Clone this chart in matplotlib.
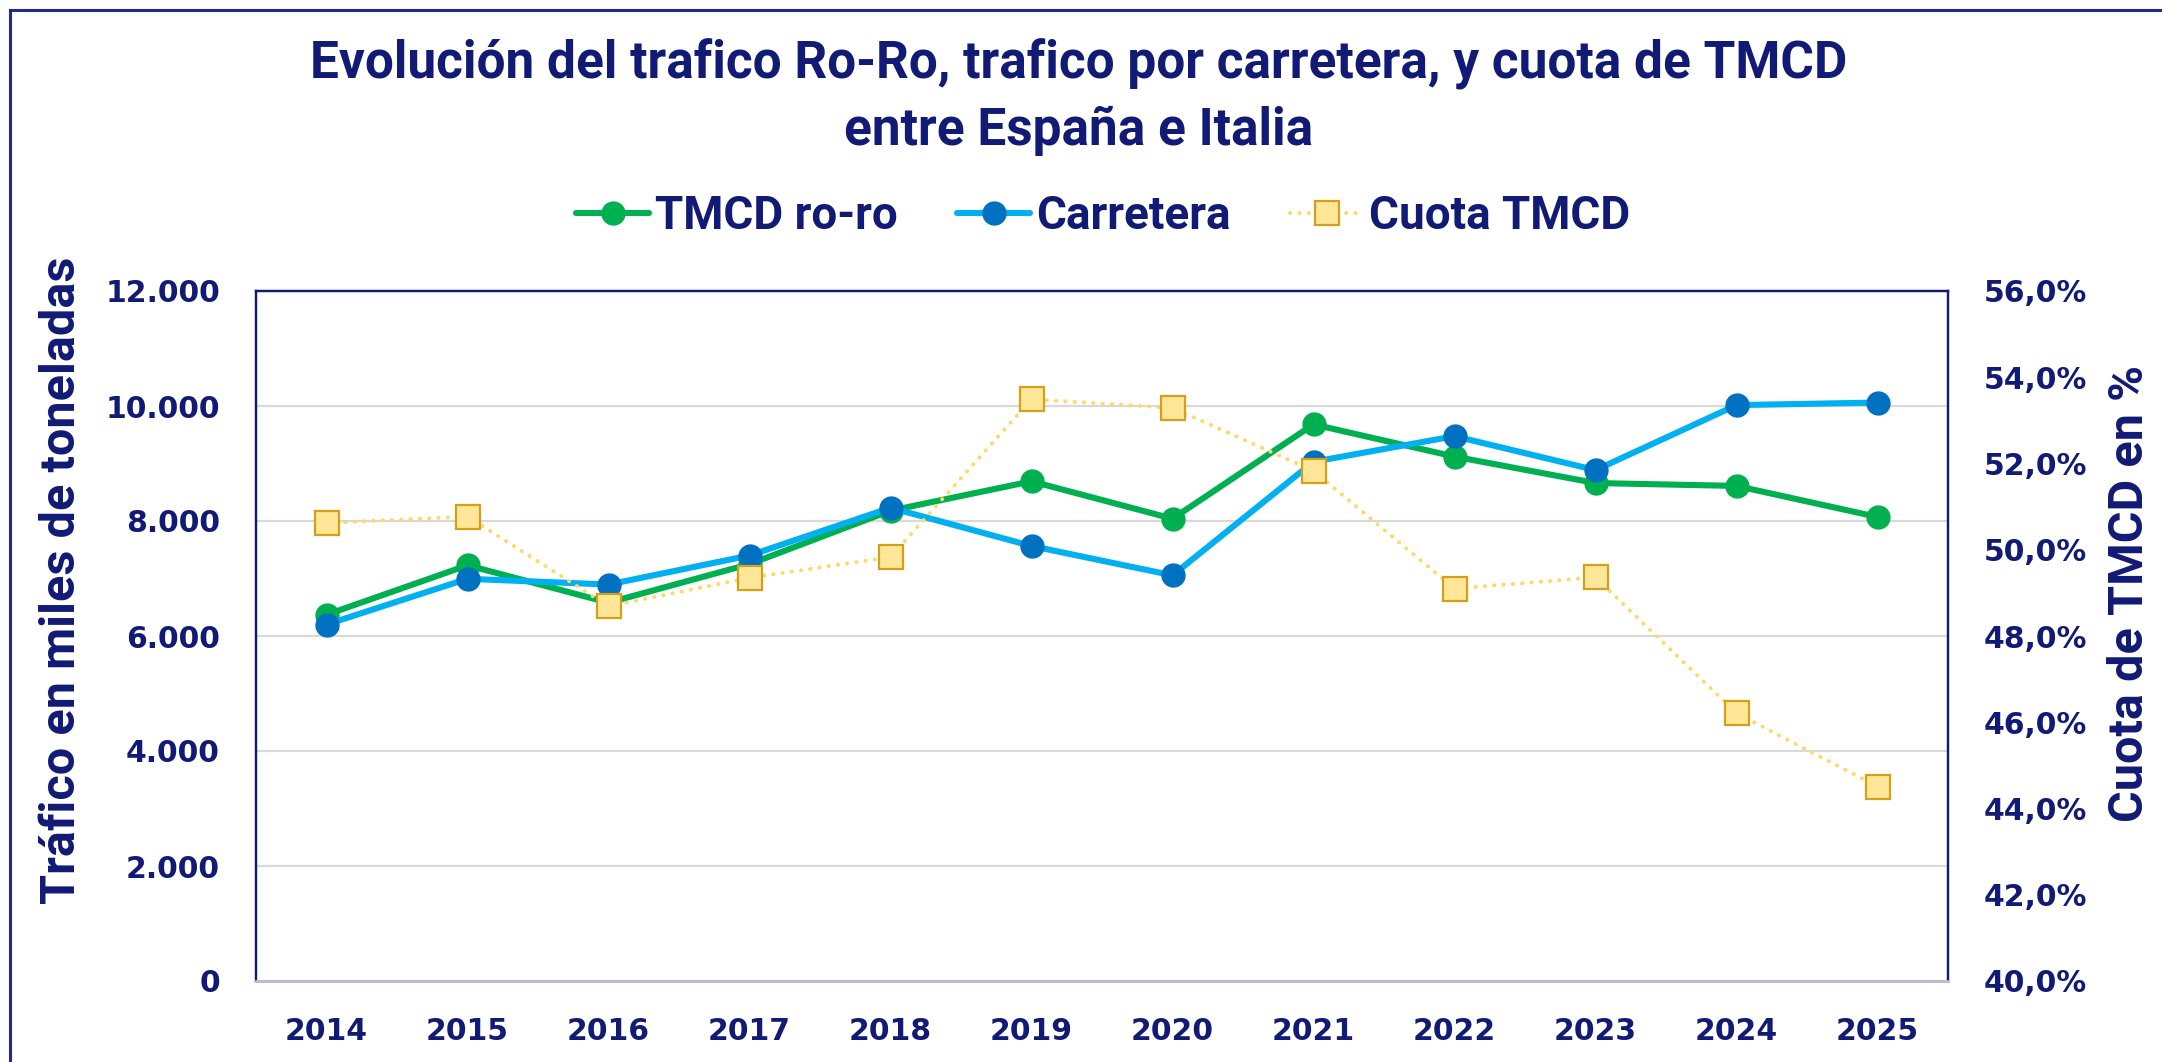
import matplotlib
matplotlib.use("Agg")
import matplotlib.pyplot as plt
from matplotlib.ticker import FuncFormatter, MultipleLocator
from matplotlib.lines import Line2D

years = ["2014", "2015", "2016", "2017", "2018", "2019", "2020", "2021", "2022", "2023", "2024", "2025"]
tmcd_roro = [6370, 7230, 6580, 7250, 8180, 8690, 8040, 9680, 9120, 8660, 8610, 8070]
carretera = [6200, 6995, 6895, 7400, 8230, 7565, 7055, 9030, 9475, 8885, 10015, 10060]
cuota_tmcd = [50.62, 50.77, 48.69, 49.35, 49.83, 53.49, 53.29, 51.83, 49.10, 49.36, 46.21, 44.51]

NAVY = "#111a74"
GREEN = "#00B050"
LBLUE = "#00B0F0"
DBLUE = "#0070C0"
GOLD_LINE = "#FFD966"
GOLD_FACE = "#FFE699"
GOLD_EDGE = "#D4A017"

W, H = 2162, 1062
fig = plt.figure(figsize=(W / 100, H / 100), dpi=100)
fig.patch.set_facecolor("white")

L, R, B, T = 256, 1948, 981, 291
ax = fig.add_axes([L / W, 1 - B / H, (R - L) / W, (B - T) / H])
x = list(range(len(years)))

ax.plot(x, tmcd_roro, color=GREEN, lw=4.4, marker="o", ms=16.5, mfc=GREEN, mec=GREEN,
        solid_capstyle="round", zorder=3, label="TMCD ro-ro")
ax.plot(x, carretera, color=LBLUE, lw=4.4, marker="o", ms=16.5, mfc=DBLUE, mec=DBLUE,
        solid_capstyle="round", zorder=4, label="Carretera")
ax.set_xlim(-0.5, len(years) - 0.5)
ax.set_ylim(0, 12000)
ax.yaxis.set_major_locator(MultipleLocator(2000))
ax.yaxis.set_major_formatter(FuncFormatter(lambda v, p: f"{int(v):,}".replace(",", ".")))
ax.set_xticks(x)
ax.set_xticklabels(years)
ax.grid(axis="y", color="#D9D9D9", lw=1.6, zorder=0)
ax.set_axisbelow(True)

ax2 = ax.twinx()
ax2.plot(x, cuota_tmcd, color=GOLD_LINE, lw=2.8, ls=(0, (0.1, 2.3)), dash_capstyle="round",
         marker="s", ms=17, mfc=GOLD_FACE, mec=GOLD_EDGE, mew=1.6, zorder=5, label="Cuota TMCD")
ax2.set_ylim(40, 56)
ax2.yaxis.set_major_locator(MultipleLocator(2))
ax2.yaxis.set_major_formatter(FuncFormatter(lambda v, p: f"{v:.1f}".replace(".", ",") + "%"))

for a in (ax, ax2):
    for s in a.spines.values():
        s.set_color(NAVY)
        s.set_linewidth(1.6)
    a.spines["bottom"].set_color("#B8BCD4")
    a.spines["bottom"].set_linewidth(2)
    a.tick_params(length=0, colors=NAVY)
for lab in ax.get_yticklabels() + ax.get_xticklabels() + ax2.get_yticklabels():
    lab.set_fontfamily("DejaVu Sans")
    lab.set_fontweight("bold")
    lab.set_fontsize(21.5)
    lab.set_color(NAVY)
ax.tick_params(axis="y", pad=26)
ax.tick_params(axis="x", pad=26)
ax2.tick_params(axis="y", pad=26)

narrow = ["Liberation Sans Narrow", "Roboto", "DejaVu Sans"]
fig.text(62 / W, 1 - 580 / H, "Tráfico en miles de toneladas", rotation=90, ha="center", va="center",
         fontsize=35, fontweight="bold", family=narrow, color=NAVY)
fig.text(2130 / W, 1 - 593 / H, "Cuota de TMCD en %", rotation=90, ha="center", va="center",
         fontsize=35, fontweight="bold", family=narrow, color=NAVY)

titlefont = ["Roboto", "DejaVu Sans"]
fig.text(1079 / W, 1 - 64 / H, "Evolución del trafico Ro-Ro, trafico por carretera, y cuota de TMCD",
         ha="center", va="center", fontsize=37, fontweight="bold", family=titlefont, color=NAVY)
fig.text(1079 / W, 1 - 131 / H, "entre España e Italia",
         ha="center", va="center", fontsize=37, fontweight="bold", family=titlefont, color=NAVY)

h1, l1 = ax.get_legend_handles_labels()
h2, l2 = ax2.get_legend_handles_labels()
leg = fig.legend(h1 + h2, l1 + l2, loc="center", bbox_to_anchor=(1103 / W, 1 - 216 / H), ncol=3,
                 frameon=False, handlelength=1.6, handletextpad=0.12, columnspacing=1.3,
                 prop=dict(family=titlefont, weight="bold", size=33))
for t in leg.get_texts():
    t.set_color(NAVY)

# outer frame (top and left edges visible)
fig.add_artist(Line2D([10 / W, 1], [1 - 10 / H, 1 - 10 / H], transform=fig.transFigure, color="#1f2a8a", lw=2.2))
fig.add_artist(Line2D([10 / W, 10 / W], [0, 1 - 10 / H], transform=fig.transFigure, color="#1f2a8a", lw=2.2))

fig.savefig("out.png", dpi=100, facecolor="white")
